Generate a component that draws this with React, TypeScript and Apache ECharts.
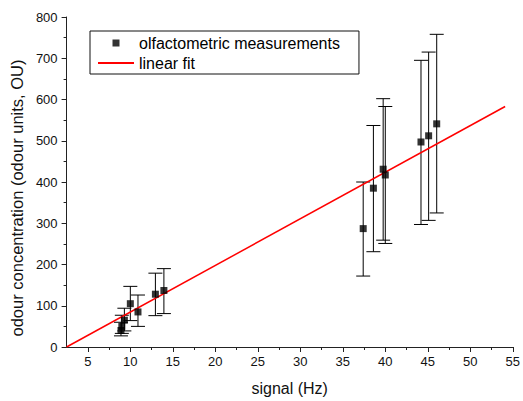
import React, { useEffect, useRef } from "react";
import * as echarts from "echarts";

const measX = [8.9, 9.0, 9.3, 10.0, 10.9, 12.95, 13.95, 37.4, 38.6, 39.75, 40.0, 44.2, 45.1, 46.05];
const measY = [40, 50, 65, 105, 85, 128, 137, 287, 385, 431, 417, 497, 512, 541];
const errLow = [27, 33, 39, 64, 50, 76, 81, 172, 231, 259, 251, 297, 307, 325];
const errHigh = [60, 77, 94, 147, 126, 179, 190, 400, 537, 602, 583, 695, 715, 758];
const fitX = [2.5, 54.1];
const fitY = [0, 583];
const xTickValues = [5, 10, 15, 20, 25, 30, 35, 40, 45, 50, 55];
const xMinorTickValues = [7.5, 12.5, 17.5, 22.5, 27.5, 32.5, 37.5, 42.5, 47.5, 52.5];

const FONT = "'Liberation Sans', Arial, sans-serif";
const AXIS_COLOR = "#222";

export default function App() {
  const ref = useRef<HTMLDivElement>(null);
  useEffect(() => {
    if (!ref.current) return;
    const chart = echarts.init(ref.current, undefined, { renderer: "svg" });
    const scatterData = measX.map((x, i) => [x, measY[i]]);
    const errData = measX.map((x, i) => [x, errLow[i], errHigh[i]]);
    const fitData = fitX.map((x, i) => [x, fitY[i]]);
    chart.setOption({
      animation: false,
      backgroundColor: "#fff",
      textStyle: { fontFamily: FONT },
      grid: { left: 64, right: 8, top: 17, bottom: 53, containLabel: false },
      legend: {
        left: 90,
        top: 31,
        orient: "vertical",
        borderColor: "#111",
        borderWidth: 1,
        borderRadius: 0,
        padding: [4, 19, 3, 7],
        itemWidth: 36,
        itemHeight: 7,
        itemGap: 4,
        symbolKeepAspect: true,
        textStyle: { fontSize: 16, lineHeight: 16, color: "#000", fontFamily: FONT },
        data: [
          { name: "olfactometric measurements", icon: "path://M0,0L7,0L7,7L0,7Z" },
          { name: "linear fit", itemStyle: { opacity: 0 } },
        ],
      },
      xAxis: [
        {
          type: "value",
          min: 2.5,
          max: 55,
          position: "bottom",
          name: "signal (Hz)",
          nameLocation: "middle",
          nameGap: 33,
          nameTextStyle: { fontSize: 16, color: "#111", fontFamily: FONT },
          axisLine: { show: true, onZero: false, lineStyle: { color: AXIS_COLOR, width: 1 } },
          axisTick: { show: true, inside: false, length: 5, customValues: xTickValues, lineStyle: { color: AXIS_COLOR } },
          axisLabel: { show: true, customValues: xTickValues, fontSize: 13, color: "#111", margin: 8, fontFamily: FONT },
          splitLine: { show: false },
        },
        {
          type: "value",
          min: 2.5,
          max: 55,
          position: "bottom",
          axisLine: { show: false, onZero: false },
          axisTick: { show: true, inside: false, length: 3, customValues: xMinorTickValues, lineStyle: { color: AXIS_COLOR } },
          axisLabel: { show: false },
          splitLine: { show: false },
        },
      ],
      yAxis: {
        type: "value",
        min: 0,
        max: 800,
        interval: 100,
        name: "odour concentration (odour units, OU)",
        nameLocation: "middle",
        nameGap: 40,
        nameTextStyle: { fontSize: 16.5, color: "#111", fontFamily: FONT, padding: [0, 32, 0, 0] },
        axisLine: { show: true, onZero: false, lineStyle: { color: AXIS_COLOR, width: 1 } },
        axisTick: { show: true, inside: false, length: 5, lineStyle: { color: AXIS_COLOR } },
        minorTick: { show: true, splitNumber: 2, length: 3, lineStyle: { color: AXIS_COLOR } },
        axisLabel: { fontSize: 13, color: "#111", margin: 9, fontFamily: FONT },
        splitLine: { show: false },
      },
      series: [
        {
          name: "errors",
          type: "custom",
          xAxisIndex: 0,
          data: errData,
          encode: { x: 0, y: [1, 2] },
          renderItem: (params: any, api: any) => {
            const x = api.value(0);
            const top = api.coord([x, api.value(2)]);
            const bot = api.coord([x, api.value(1)]);
            const hw = 7;
            const style = { stroke: "#000", lineWidth: 1 };
            return {
              type: "group",
              children: [
                { type: "line", shape: { x1: top[0], y1: top[1], x2: bot[0], y2: bot[1] }, style },
                { type: "line", shape: { x1: top[0] - hw, y1: top[1], x2: top[0] + hw, y2: top[1] }, style },
                { type: "line", shape: { x1: bot[0] - hw, y1: bot[1], x2: bot[0] + hw, y2: bot[1] }, style },
              ],
            };
          },
          z: 2,
        },
        {
          name: "linear fit",
          type: "line",
          xAxisIndex: 0,
          data: fitData,
          showSymbol: false,
          symbol: "none",
          lineStyle: { color: "#ff0000", width: 1.5 },
          itemStyle: { color: "#ff0000" },
          z: 3,
        },
        {
          name: "olfactometric measurements",
          type: "scatter",
          xAxisIndex: 0,
          data: scatterData,
          symbol: "rect",
          symbolSize: 7,
          itemStyle: { color: "#000" },
          z: 4,
        },
      ],
    });
    return () => chart.dispose();
  }, []);
  return (
    <div
      ref={ref}
      style={{ position: "fixed", left: 0, top: 0, width: 523, height: 401 }}
    />
  );
}
